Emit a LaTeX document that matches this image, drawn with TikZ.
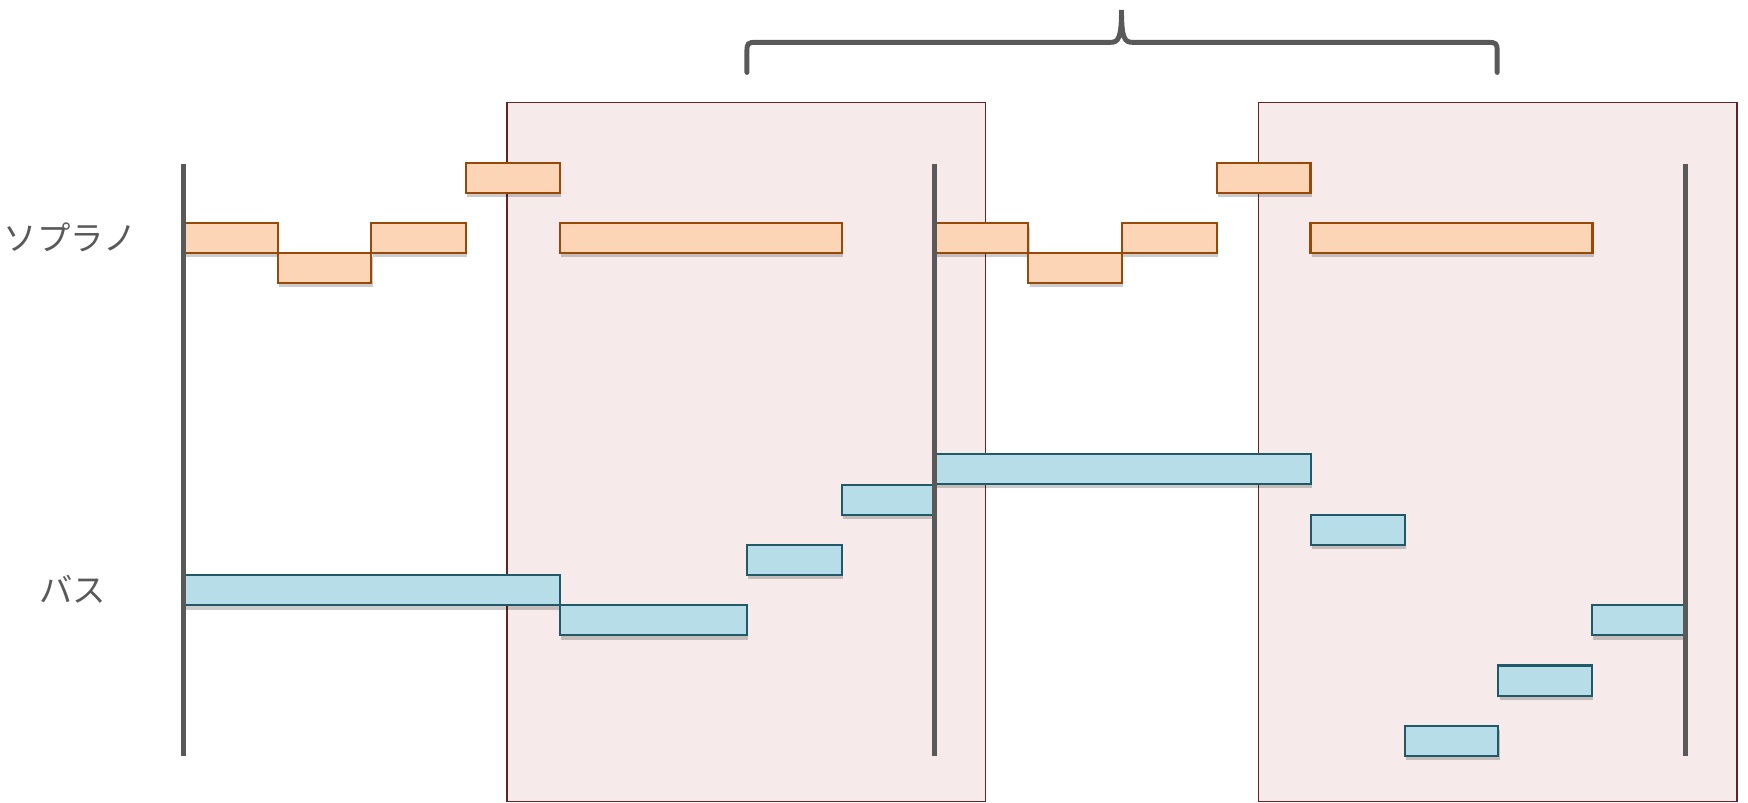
\documentclass[tikz,border=0pt]{standalone}
\usepackage{fontspec}
\newfontfamily\jp{Noto Sans CJK JP}
\usetikzlibrary{shadows}

\definecolor{bargray}{HTML}{595959}
\definecolor{sopfill}{HTML}{FBD5B5}
\definecolor{sopline}{HTML}{984807}
\definecolor{basfill}{HTML}{B7DDE8}
\definecolor{basline}{HTML}{215968}
\definecolor{boxfill}{HTML}{F6EAEA}
\definecolor{boxline}{HTML}{632523}

\tikzset{
  note/.style={line width=0.6pt,drop shadow={shadow xshift=0.4pt,shadow yshift=-1.2pt,opacity=0.2,fill=black}},
  sopnote/.style={note,draw=sopline,fill=sopfill},
  basnote/.style={note,draw=basline,fill=basfill},
  phrase/.style={draw=boxline,fill=boxfill,line width=0.5pt},
  barline/.style={draw=bargray,line width=1.4pt},
  voice/.style={text=bargray,font=\jp\fontsize{9.5}{11}\selectfont}
}

\begin{document}
\begin{tikzpicture}[x=0.011148cm,y=-0.011148cm]
\useasboundingbox (0,0) rectangle (1568,720.3);

% phrase boxes
\draw[phrase] (455,92) rectangle (884,719);
\draw[phrase] (1129,92) rectangle (1558,719);

% brace
\draw[barline,line cap=round] (670,65) -- (670,46) .. controls (670,39) and (671,38) .. (678,38)
  -- (996,38) .. controls (1003,38) and (1006,35) .. (1006,9)
  .. controls (1006,35) and (1009,38) .. (1016,38)
  -- (1335,38) .. controls (1342,38) and (1343,39) .. (1343,46) -- (1343,65);

% soprano
\foreach \s in {0,673.5}{
  \foreach \xa/\xb/\ya in {165/249/200,249/333/227,333/418/200,418/502/146,502/755/200}
    \draw[sopnote] (\xa+\s,\ya) rectangle (\xb+\s,\ya+27);
}

% bass
\foreach \xa/\xb/\ya in {165/502/516,502/670/543,670/755/489,755/838/435,838/1176/407,
    1176/1260/462,1260/1344/651,1344/1428/597,1428/1512/543}
  \draw[basnote] (\xa,\ya) rectangle (\xb,\ya+27);

% bar lines
\foreach \x in {165,838,1512}
  \draw[barline] (\x,147) -- (\x,678);

\node[voice] (soprano) at (63,213) {ソプラノ};
\node[voice] (bass) at (65,529) {バス};
\end{tikzpicture}
\end{document}
